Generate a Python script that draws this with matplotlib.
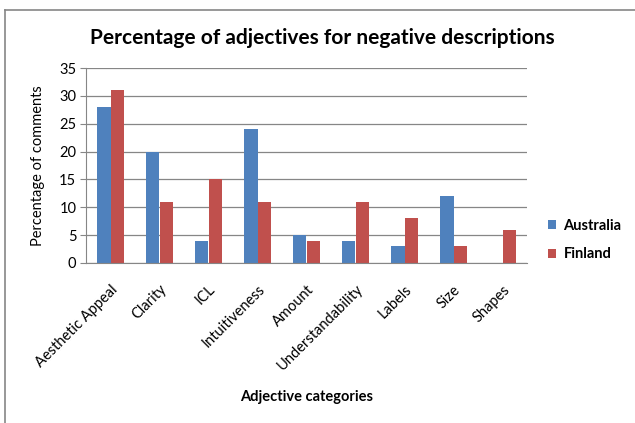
import numpy as np
import matplotlib.pyplot as plt
from matplotlib.lines import Line2D

plt.rcParams['font.family'] = ['Lato', 'DejaVu Sans']

categories = ['Aesthetic Appeal', 'Clarity', 'ICL', 'Intuitiveness', 'Amount',
              'Understandability', 'Labels', 'Size', 'Shapes']
australia = [28, 20, 4, 24, 5, 4, 3, 12, 0]
finland = [31, 11, 15, 11, 4, 11, 8, 3, 6]
yticks = [0, 5, 10, 15, 20, 25, 30, 35]

W, H = 635, 423
fig = plt.figure(figsize=(W / 100, H / 100), dpi=100)
ax = fig.add_axes([86 / W, 1 - 263 / H, (527 - 86) / W, (263 - 68) / H])

x = np.arange(len(categories))
bw = 0.27
ax.bar(x - bw / 2, australia, bw, color='#4f81bd', label='Australia')
ax.bar(x + bw / 2, finland, bw, color='#c0504d', label='Finland')

ax.set_xlim(-0.5, len(categories) - 0.5)
ax.set_ylim(0, 35)
ax.set_yticks(yticks)
ax.yaxis.grid(True, color='#868686', linewidth=0.9)
ax.set_axisbelow(True)
for s in ['top', 'right']:
    ax.spines[s].set_visible(False)
ax.spines['left'].set_color('#868686')
ax.spines['bottom'].set_color('#868686')
ax.tick_params(axis='y', length=4, color='#868686', labelsize=10.5, pad=3)
ax.tick_params(axis='x', length=0, labelsize=10.5, pad=14)
ax.set_xticks(x)
ax.set_xticklabels(categories, rotation=45, ha='right', rotation_mode='anchor')

ax.set_ylabel('Percentage of comments', fontsize=10.5, labelpad=10)
fig.text(307 / W, 1 - 397 / H, 'Adjective categories', ha='center', va='center',
         fontsize=10.5, fontweight='bold')
fig.text(322 / W, 1 - 38 / H, 'Percentage of adjectives for negative descriptions',
         ha='center', va='center', fontsize=15, fontweight='bold')

fig.legend(loc='center left', bbox_to_anchor=(535 / W, 1 - 240 / H), frameon=False,
           prop={'size': 10.5, 'weight': 'bold'}, handlelength=0.55,
           handleheight=0.55, labelspacing=1.0, handletextpad=0.5)

# chart frame: only left and top edges are visible in the crop
fig.lines.append(Line2D([5 / W, 5 / W], [0, 1 - 10 / H], transform=fig.transFigure,
                        color='#868686', linewidth=1.2))
fig.lines.append(Line2D([5 / W, 1], [1 - 10 / H, 1 - 10 / H], transform=fig.transFigure,
                        color='#868686', linewidth=1.2))

fig.savefig('out.png', dpi=100)
